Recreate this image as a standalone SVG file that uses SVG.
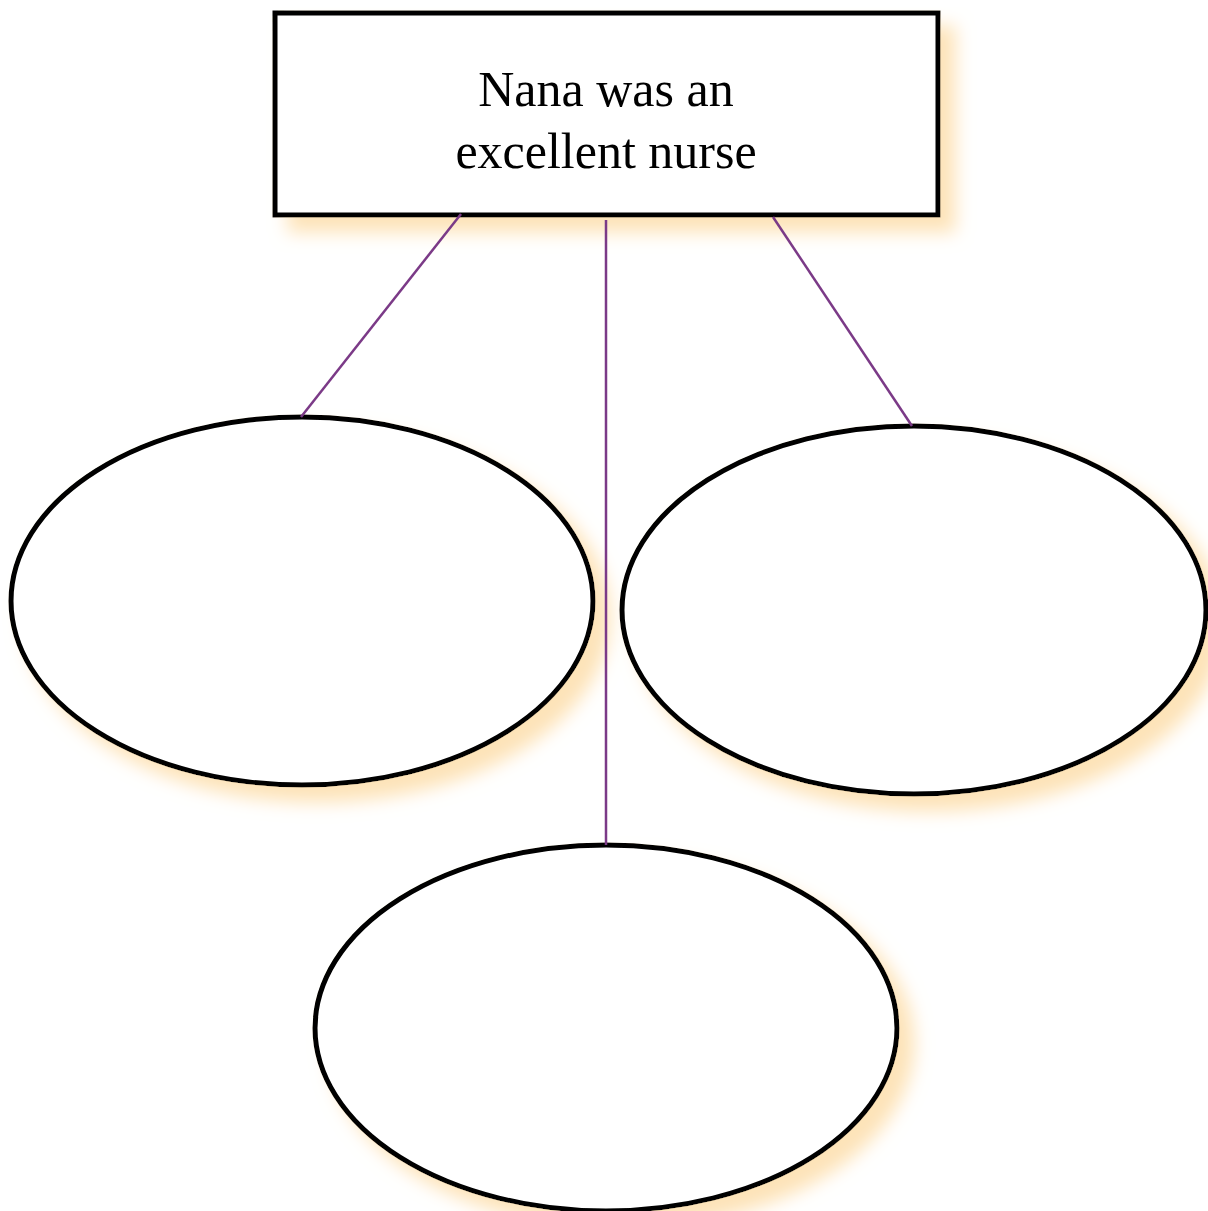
<svg xmlns="http://www.w3.org/2000/svg" width="1208" height="1211" viewBox="0 0 1208 1211">
<defs>
<filter id="sh" x="-10%" y="-10%" width="130%" height="130%">
<feGaussianBlur in="SourceAlpha" stdDeviation="9"/>
<feOffset dx="15" dy="15" result="b"/>
<feFlood flood-color="#fde3b8"/>
<feComposite in2="b" operator="in"/>
<feMerge><feMergeNode/><feMergeNode in="SourceGraphic"/></feMerge>
</filter>
<style>
.node{fill:#fff;stroke:#000;stroke-width:5;filter:url(#sh)}
.conn{stroke:#7b3a87;stroke-width:2.5;fill:none}
.lbl{font-family:"Liberation Serif",serif;font-size:50px;fill:#000;text-anchor:middle}
</style>
</defs>
<rect width="1208" height="1211" fill="#fff"/>
<g id="n-top"><rect class="node" x="275" y="13" width="663" height="202"/>
<text class="lbl" x="606" y="106">Nana was an</text>
<text class="lbl" x="606" y="168">excellent nurse</text></g>
<g id="n-left"><ellipse class="node" cx="302" cy="601" rx="291" ry="184"/></g>
<g id="n-right"><ellipse class="node" cx="914" cy="610" rx="292" ry="184"/></g>
<g id="n-bottom"><ellipse class="node" cx="606" cy="1028" rx="291" ry="183"/></g>
<g id="connectors">
<line class="conn" x1="461" y1="214" x2="301" y2="417"/>
<line class="conn" x1="606" y1="220" x2="606" y2="845"/>
<line class="conn" x1="773" y1="217" x2="912" y2="426"/>
</g>
</svg>
